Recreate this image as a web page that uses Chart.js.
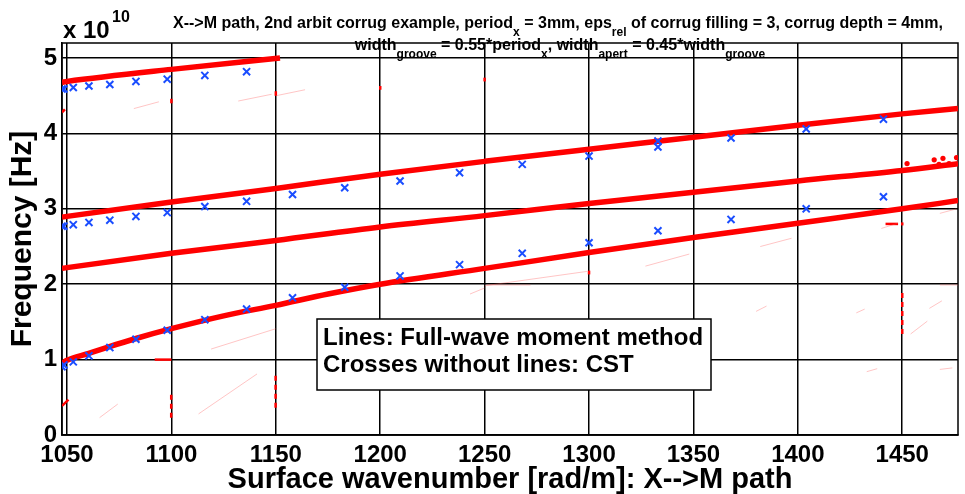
<!DOCTYPE html>
<html>
<head>
<meta charset="utf-8">
<script src="https://cdn.jsdelivr.net/npm/chart.js"></script>
<style>
  html, body { margin: 0; padding: 0; background: #fff; }
</style>
</head>
<body>
<canvas id="bandChart" width="965" height="494"></canvas>
<script>
const FONT = "'Liberation Sans', Arial, Helvetica, sans-serif";

// axis ticks: wavenumber [rad/m], frequency in units of 1e10 Hz
const kTicks = [1050, 1100, 1150, 1200, 1250, 1300, 1350, 1400, 1450];
const fTicks = [0, 1, 2, 3, 4, 5];
const kMin = 1047.6, kMax = 1476.7;
const fMin = 0, fMax = 5.2;

// full-wave moment method curves (red)
const band1K = [1047.6, 1050, 1060, 1070, 1083, 1100, 1125, 1150, 1175, 1200, 1250, 1300, 1350, 1400, 1450, 1476.7];
const band1F = [0.95, 0.99, 1.08, 1.17, 1.28, 1.41, 1.58, 1.72, 1.87, 2.0, 2.21, 2.42, 2.62, 2.81, 3.0, 3.11];
const band2K = [1047.6, 1050, 1100, 1150, 1200, 1250, 1300, 1350, 1400, 1450, 1476.7];
const band2F = [2.21, 2.22, 2.41, 2.58, 2.76, 2.91, 3.07, 3.22, 3.37, 3.51, 3.6];
const band3K = [1047.6, 1050, 1100, 1150, 1200, 1250, 1300, 1350, 1400, 1450, 1476.7];
const band3F = [2.89, 2.9, 3.09, 3.27, 3.46, 3.63, 3.79, 3.95, 4.11, 4.26, 4.33];
const band4K = [1047.6, 1050, 1100, 1152];
const band4F = [4.68, 4.69, 4.85, 5.0];

// scattered solver points near the end of band 2
const jitterK = [1452.3, 1465.3, 1467.6, 1469.5, 1472.4, 1476];
const jitterF = [3.6, 3.65, 3.59, 3.67, 3.6, 3.68];

// CST results (blue crosses)
const cstK   = [1047.6, 1048.5, 1053, 1060.5, 1070.5, 1083, 1098, 1116, 1136, 1158, 1183, 1209.5, 1238, 1268, 1300, 1333, 1368, 1404, 1441];
const cstLow = [0.905, 0.93, 0.97, 1.05, 1.16, 1.27, 1.39, 1.53, 1.67, 1.82, 1.96, 2.11, 2.26, 2.41, 2.55, 2.71, 2.86, 3.0, 3.16];
const cstMid = [2.77, 2.77, 2.79, 2.82, 2.85, 2.9, 2.95, 3.03, 3.1, 3.19, 3.28, 3.37, 3.48, 3.59, 3.7, 3.82, 3.94, 4.06, 4.19];
const cstTop = [4.59, 4.59, 4.61, 4.63, 4.65, 4.69, 4.72, 4.77, 4.82];
const cstExtraK = [1333];
const cstExtraF = [3.9];

// short red fragments of the solver output [k1, f1, k2, f2]
const redBits = [
  [1047.6, 4.28, 1049, 4.32],
  [1047.6, 0.385, 1050.7, 0.47],
  [1092, 1.0, 1100, 1.0],
  [1100, 4.4, 1100, 4.46],
  [1150, 4.5, 1150, 4.56],
  [1200, 4.58, 1200, 4.63],
  [1250, 4.69, 1250, 4.74],
  [1300, 2.13, 1300, 2.18],
  [1442, 2.8, 1448, 2.8],
  [1450, 2.78, 1450, 2.82]
];
const dashedBits = [
  [1099.9, 0.23, 1099.9, 0.56],
  [1149.9, 0.36, 1149.9, 0.83],
  [1450, 1.34, 1450, 1.9]
];
// faint pink traces
const faintBits = [
  [1065.6, 0.23, 1074.3, 0.41],
  [1113, 0.28, 1141, 0.81],
  [1119, 1.14, 1150, 1.41],
  [1082, 4.33, 1094, 4.42],
  [1132, 4.43, 1148, 4.52],
  [1150, 4.5, 1164, 4.58],
  [1243, 1.87, 1250, 1.95],
  [1250, 1.98, 1299, 2.17],
  [1251, 1.99, 1272, 1.99],
  [1327, 2.24, 1348, 2.4],
  [1382, 2.5, 1397, 2.61],
  [1440, 2.74, 1448, 2.81],
  [1468, 2.94, 1476, 3.0],
  [1380, 1.64, 1385, 1.71],
  [1428, 1.62, 1432, 1.67],
  [1454, 1.34, 1462, 1.51],
  [1463, 1.68, 1469, 1.78],
  [1468, 1.99, 1476.7, 1.99],
  [1433, 0.84, 1438, 0.88],
  [1468, 0.87, 1474, 0.89]
];

const RED = '#ff0000';
const BLUE = '#1a4dff';

function pts(xs, ys) {
  return xs.map((x, i) => ({ x: x, y: ys[i] }));
}

function segDataset(b, color, width, dash) {
  return {
    type: 'line',
    data: [{ x: b[0], y: b[1] }, { x: b[2], y: b[3] }],
    borderColor: color,
    borderWidth: width,
    borderDash: dash || [],
    pointRadius: 0,
    order: 5
  };
}

function bandDataset(xs, ys) {
  return {
    type: 'line',
    data: pts(xs, ys),
    borderColor: RED,
    borderWidth: 5.5,
    pointRadius: 0,
    cubicInterpolationMode: 'monotone',
    order: 3
  };
}

function crossDataset(xs, ys) {
  return {
    type: 'scatter',
    data: pts(xs, ys),
    showLine: false,
    pointStyle: 'crossRot',
    pointRadius: 5,
    borderColor: BLUE,
    backgroundColor: BLUE,
    pointBorderWidth: 2,
    order: 1
  };
}

const datasets = [];
faintBits.forEach(b => datasets.push(segDataset(b, 'rgba(255,90,90,0.35)', 1)));
redBits.forEach(b => datasets.push(segDataset(b, RED, 2.5)));
dashedBits.forEach(b => datasets.push(segDataset(b, RED, 2.5, [5, 4])));
datasets.push(bandDataset(band1K, band1F));
datasets.push(bandDataset(band2K, band2F));
datasets.push(bandDataset(band3K, band3F));
datasets.push(bandDataset(band4K, band4F));
datasets.push({
  type: 'scatter',
  data: pts(jitterK, jitterF),
  showLine: false,
  pointRadius: 2.6,
  pointBorderWidth: 0,
  backgroundColor: RED,
  borderColor: RED,
  order: 2
});
datasets.push(crossDataset(cstK, cstLow));
datasets.push(crossDataset(cstK, cstMid));
datasets.push(crossDataset(cstK.slice(0, cstTop.length), cstTop));
datasets.push(crossDataset(cstExtraK, cstExtraF));

// box round the plot area
const framePlugin = {
  id: 'frame',
  beforeDatasetsDraw(chart) {
    const { ctx, chartArea: a } = chart;
    ctx.save();
    ctx.strokeStyle = '#000';
    ctx.lineWidth = 1.5;
    ctx.strokeRect(a.left, a.top, a.right - a.left, a.bottom - a.top);
    ctx.restore();
  }
};

// text box with the two notes
const notePlugin = {
  id: 'note',
  afterDatasetsDraw(chart) {
    const ctx = chart.ctx;
    ctx.save();
    ctx.fillStyle = '#fff';
    ctx.fillRect(317, 319, 394, 71);
    ctx.strokeStyle = '#000';
    ctx.lineWidth = 1.5;
    ctx.strokeRect(317, 319, 394, 71);
    ctx.fillStyle = '#000';
    ctx.font = 'bold 24px ' + FONT;
    ctx.textBaseline = 'alphabetic';
    ctx.fillText('Lines: Full-wave moment method', 323, 345);
    ctx.fillText('Crosses without lines: CST', 323, 372);
    ctx.restore();
  }
};

// rich text: [text, isSub]
const titleLine1 = [
  ['X-->M path, 2nd arbit corrug example, period', 0], ['x', 1],
  [' = 3mm, eps', 0], ['rel', 1],
  [' of corrug filling = 3, corrug depth = 4mm,', 0]
];
const titleLine2 = [
  ['width', 0], ['groove', 1], [' = 0.55*period', 0], ['x', 1],
  [', width', 0], ['apert', 1], [' = 0.45*width', 0], ['groove', 1]
];

function drawRich(ctx, parts, cx, baseline) {
  const big = 'bold 16px ' + FONT, small = 'bold 12px ' + FONT;
  let w = 0;
  parts.forEach(p => { ctx.font = p[1] ? small : big; w += ctx.measureText(p[0]).width; });
  let x = cx - w / 2;
  parts.forEach(p => {
    ctx.font = p[1] ? small : big;
    ctx.fillText(p[0], x, baseline + (p[1] ? 8 : 0));
    x += ctx.measureText(p[0]).width;
  });
}

const titlePlugin = {
  id: 'richTitle',
  afterDraw(chart) {
    const ctx = chart.ctx;
    ctx.save();
    ctx.fillStyle = '#000';
    ctx.textBaseline = 'alphabetic';
    ctx.textAlign = 'left';
    drawRich(ctx, titleLine1, 558, 28);
    drawRich(ctx, titleLine2, 560, 50);
    // exponent of the frequency axis
    ctx.font = 'bold 24px ' + FONT;
    ctx.fillText('x 10', 63, 38);
    ctx.font = 'bold 16px ' + FONT;
    ctx.fillText('10', 112, 22);
    ctx.restore();
  }
};

new Chart(document.getElementById('bandChart').getContext('2d'), {
  type: 'line',
  data: { datasets: datasets },
  options: {
    responsive: false,
    animation: false,
    layout: { padding: { top: 43, right: 2, left: 0, bottom: 0 } },
    plugins: {
      legend: { display: false },
      tooltip: { enabled: false }
    },
    scales: {
      x: {
        type: 'linear',
        min: kMin,
        max: kMax,
        afterBuildTicks: s => { s.ticks = kTicks.map(v => ({ value: v })); },
        afterFit: s => { s.height = 59; },
        grid: { color: '#000', lineWidth: 1.5, drawTicks: false },
        border: { color: '#000', width: 1.5 },
        ticks: {
          color: '#000',
          padding: 6,
          maxRotation: 0,
          font: { family: FONT, size: 24, weight: 'bold' },
          callback: v => String(v)
        },
        title: {
          display: true,
          text: 'Surface wavenumber [rad/m]: X-->M path',
          color: '#000',
          padding: 0,
          font: { family: FONT, size: 29, weight: 'bold', lineHeight: 1.0 }
        }
      },
      y: {
        type: 'linear',
        min: fMin,
        max: fMax,
        afterBuildTicks: s => { s.ticks = fTicks.map(v => ({ value: v })); },
        afterFit: s => { s.width = 62; },
        grid: { color: '#000', lineWidth: 1.5, drawTicks: false },
        border: { color: '#000', width: 1.5 },
        ticks: {
          color: '#000',
          padding: 5,
          font: { family: FONT, size: 24, weight: 'bold' },
          callback: v => String(v)
        },
        title: {
          display: true,
          text: 'Frequency [Hz]',
          color: '#000',
          padding: { top: 5, bottom: 0 },
          font: { family: FONT, size: 30, weight: 'bold' }
        }
      }
    }
  },
  plugins: [framePlugin, notePlugin, titlePlugin]
});
</script>
</body>
</html>
